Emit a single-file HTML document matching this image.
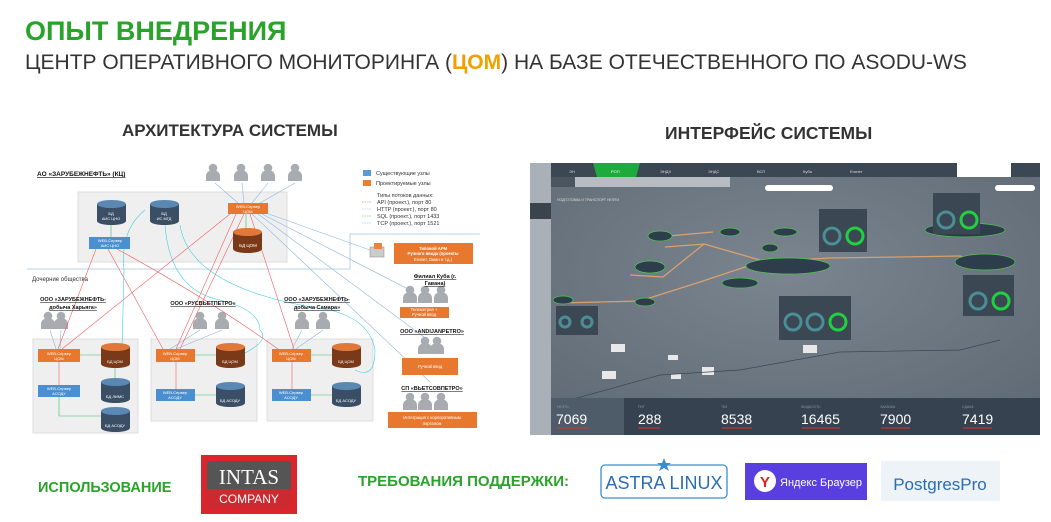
<!DOCTYPE html>
<html><head><meta charset="utf-8"><style>
html,body{margin:0;padding:0;background:#fff;}
body{width:1051px;height:522px;position:relative;overflow:hidden;font-family:"Liberation Sans","Noto Sans CJK SC",sans-serif;}
.a{position:absolute;white-space:nowrap;}
</style></head><body>
<div class="a" style="left:25px;top:16px;font-size:27px;font-weight:bold;color:#2aa32a;">ОПЫТ ВНЕДРЕНИЯ</div>
<div class="a" style="left:25px;top:51px;font-size:21px;color:#333;">ЦЕНТР ОПЕРАТИВНОГО МОНИТОРИНГА (<b style="color:#f0a000">ЦОМ</b>) НА БАЗЕ ОТЕЧЕСТВЕННОГО ПО ASODU-WS</div>
<div class="a" style="left:122px;top:121px;font-size:17px;font-weight:bold;color:#333;">АРХИТЕКТУРА СИСТЕМЫ</div>
<div class="a" style="left:665px;top:123px;font-size:17.5px;font-weight:bold;color:#333;">ИНТЕРФЕЙС СИСТЕМЫ</div>

<svg class="a" style="left:0;top:0" width="1051" height="522" font-family="Liberation Sans, sans-serif">
<defs>
<g id="u"><circle cx="0" cy="-5" r="4.3" fill="#a8acb0"/><path d="M-7,8 v-5 a7,6 0 0 1 14,0 v5 z" fill="#a8acb0"/></g>
<g id="cb"><path d="M0,4 v17 a14.5,4 0 0 0 29,0 v-17" fill="#3a4f66"/><ellipse cx="14.5" cy="4" rx="14.5" ry="4" fill="#5b87b3"/></g>
<g id="co"><path d="M0,4 v17 a14.5,4 0 0 0 29,0 v-17" fill="#7a3a1a"/><ellipse cx="14.5" cy="4" rx="14.5" ry="4" fill="#e0783a"/></g>
<radialGradient id="mg" cx="0.5" cy="0.4" r="0.7"><stop offset="0" stop-color="#7a858f"/><stop offset="1" stop-color="#5f6a74"/></radialGradient>
</defs>
<!-- left diagram -->
<text x="37" y="176" font-size="6.5" font-weight="bold" text-decoration="underline" fill="#111">АО «ЗАРУБЕЖНЕФТЬ» (КЦ)</text>
<rect x="78" y="192" width="209" height="70" fill="#efefef" stroke="#ddd"/>
<rect x="33" y="339" width="105" height="94" fill="#efefef" stroke="#ddd"/>
<rect x="151" y="339" width="106" height="82" fill="#efefef" stroke="#ddd"/>
<rect x="267" y="339" width="106" height="82" fill="#efefef" stroke="#ddd"/>
<path d="M27,269 H350 V234 H480" fill="none" stroke="#a9c4e0" stroke-width="0.8"/>
<text x="32" y="281" font-size="6" fill="#333">Дочерние общества</text>
<use href="#u" x="213" y="173"/><use href="#u" x="241" y="173"/><use href="#u" x="268" y="173"/><use href="#u" x="295" y="173"/>
<use href="#u" x="48" y="321"/><use href="#u" x="61" y="321"/>
<use href="#u" x="200" y="321"/><use href="#u" x="222" y="321"/>
<use href="#u" x="302" y="321"/><use href="#u" x="323" y="321"/>
<use href="#u" x="410" y="295"/><use href="#u" x="425" y="295"/><use href="#u" x="441" y="295"/>
<use href="#u" x="425" y="346"/><use href="#u" x="437" y="346"/>
<use href="#u" x="410" y="402"/><use href="#u" x="425" y="402"/><use href="#u" x="441" y="402"/>
<g fill="none" stroke-width="0.6">
<g stroke="#8bb7e0"><path d="M215,183 L238,203 M242,183 L244,203 M268,183 L252,203 M295,183 L260,203 M370,250 L266,213 M410,290 L262,214 M428,340 L258,214 M430,382 L252,214 M50,330 L56,349 M61,330 L60,349 M200,330 L170,349 M222,330 L176,349 M302,330 L292,349 M323,330 L296,349"/></g>
<g stroke="#f06060"><path d="M230,214 L62,349 M236,214 L176,349 M244,214 L180,349 M250,214 L294,349 M96,249 L58,349 M108,249 L163,349 M117,249 Q210,300 278,349 M59,362 L59,385 M176,362 L176,389 M292,362 L292,389"/></g>
<g stroke="#40d0e0"><path d="M145,210 Q120,230 124,270 L122,350 L114,355 M165,225 Q170,290 220,300 Q260,310 260,330 Q270,340 245,353 M180,225 Q190,290 330,310 Q370,320 375,350 Q375,380 355,370"/></g>
<g stroke="#30c060"><path d="M246,214 V228 M111,225 V237 M80,355 H101 M195,355 H216 M311,355 H332 M195,395 H216 M311,395 H332 M59,397 V416 H101 M115,367 V378"/></g>
</g>
<use href="#co" x="233" y="228"/><text x="248" y="247" font-size="4.5" fill="#fff" text-anchor="middle">БД ЦОМ</text>
<use href="#cb" x="97" y="200"/><text x="111" y="215" font-size="4" fill="#fff" text-anchor="middle">БД</text><text x="111" y="220" font-size="4" fill="#fff" text-anchor="middle">АИС ЦНО</text>
<use href="#cb" x="150" y="200"/><text x="164" y="215" font-size="4" fill="#fff" text-anchor="middle">БД</text><text x="164" y="220" font-size="4" fill="#fff" text-anchor="middle">ИС МГД</text>
<rect x="228" y="203" width="40" height="11" fill="#e8782e"/><text x="248" y="208" font-size="4" fill="#fff" text-anchor="middle">WEB-Сервер</text><text x="248" y="213" font-size="4" fill="#fff" text-anchor="middle">ЦОМ</text>
<rect x="89" y="237" width="41" height="12" fill="#4a8fd0"/><text x="110" y="242" font-size="4" fill="#fff" text-anchor="middle">WEB-Сервер</text><text x="110" y="247" font-size="4" fill="#fff" text-anchor="middle">АИС ЦНО</text>
<g font-size="4" fill="#fff" text-anchor="middle">
<rect x="38" y="349" width="42" height="13" fill="#e8782e"/><text x="59" y="355">WEB-Сервер</text><text x="59" y="360">ЦОМ</text>
<rect x="156" y="349" width="39" height="13" fill="#e8782e"/><text x="175" y="355">WEB-Сервер</text><text x="175" y="360">ЦОМ</text>
<rect x="272" y="349" width="39" height="13" fill="#e8782e"/><text x="291" y="355">WEB-Сервер</text><text x="291" y="360">ЦОМ</text>
<rect x="38" y="385" width="42" height="12" fill="#4a8fd0"/><text x="59" y="390">WEB-Сервер</text><text x="59" y="395">АСОДУ</text>
<rect x="156" y="389" width="39" height="12" fill="#4a8fd0"/><text x="175" y="394">WEB-Сервер</text><text x="175" y="399">АСОДУ</text>
<rect x="272" y="389" width="39" height="12" fill="#4a8fd0"/><text x="291" y="394">WEB-Сервер</text><text x="291" y="399">АСОДУ</text>
</g>
<use href="#co" x="101" y="343"/><use href="#co" x="216" y="343"/><use href="#co" x="332" y="343"/>
<use href="#cb" x="101" y="378"/><use href="#cb" x="101" y="407"/><use href="#cb" x="216" y="382"/><use href="#cb" x="332" y="382"/>
<g font-size="4" fill="#fff" text-anchor="middle"><text x="115" y="363">БД ЦОМ</text><text x="230" y="363">БД ЦОМ</text><text x="346" y="363">БД ЦОМ</text><text x="115" y="398">БД ЛИМС</text><text x="115" y="427">БД АСОДУ</text><text x="230" y="402">БД АСОДУ</text><text x="346" y="402">БД АСОДУ</text></g>
<g font-size="5.5" font-weight="bold" text-decoration="underline" fill="#111" text-anchor="middle">
<text x="73" y="301">ООО «ЗАРУБЕЖНЕФТЬ-</text><text x="73" y="309">добыча Харьяга»</text>
<text x="203" y="305">ООО «РУСВЬЕТПЕТРО»</text>
<text x="317" y="301">ООО «ЗАРУБЕЖНЕФТЬ-</text><text x="317" y="309">добыча Самара»</text>
<text x="435" y="278">Филиал Куба (г.</text><text x="435" y="285">Гавана)</text>
<text x="432" y="333">ООО «ANDIJANPETRO»</text>
<text x="432" y="390">СП «ВЬЕТСОВПЕТРО»</text>
</g>
<rect x="363" y="170" width="8" height="6" fill="#5b9bd5"/><rect x="363" y="180" width="8" height="6" fill="#ed7d31"/>
<g font-size="5.5" fill="#333"><text x="376" y="175">Существующие узлы</text><text x="376" y="185">Проектируемые узлы</text><text x="377" y="197">Типы потоков данных:</text><text x="377" y="204">API (проект.), порт 80</text><text x="377" y="211">HTTP (проект.), порт 80</text><text x="377" y="218">SQL (проект.), порт 1433</text><text x="377" y="225">TCP (проект.), порт 1521</text></g>
<g stroke-width="0.6" stroke-dasharray="1.5,1"><line x1="362" y1="202" x2="372" y2="202" stroke="#f06060"/><line x1="362" y1="209" x2="372" y2="209" stroke="#8bb7e0"/><line x1="362" y1="216" x2="372" y2="216" stroke="#30c060"/><line x1="362" y1="223" x2="372" y2="223" stroke="#40d0e0"/></g>
<rect x="370" y="247" width="14" height="10" fill="#ccc" stroke="#888" stroke-width="0.5"/><rect x="374" y="243" width="8" height="6" fill="#f08040"/>
<g font-size="4.2" fill="#fff" text-anchor="middle">
<rect x="394" y="243" width="79" height="21" fill="#e8782e"/><text x="433" y="250" font-weight="bold">Типовой АРМ</text><text x="433" y="255" font-weight="bold">Ручного ввода (проекты</text><text x="433" y="261">Египет, Оман и т.д.)</text>
<rect x="400" y="307" width="49" height="11" fill="#e8782e"/><text x="424" y="311">Телеметрия +</text><text x="424" y="316">Ручной ввод</text>
<rect x="402" y="358" width="56" height="17" fill="#e8782e"/><text x="430" y="368">Ручной ввод</text>
<rect x="388" y="412" width="89" height="16" fill="#e8782e"/><text x="432" y="419">Интеграция с корпоративным</text><text x="432" y="425">порталом</text>
</g>

<!-- right screenshot -->
<rect x="530" y="163" width="510" height="272" fill="url(#mg)"/>
<rect x="530" y="163" width="510" height="14" fill="#3b4753"/>
<path d="M593,163 H640 L636,177 H597 Z" fill="#1faa3c"/>
<rect x="957" y="163" width="54" height="14" fill="#fff"/>
<rect x="551" y="177" width="179" height="10" fill="#b6bcc2"/><rect x="551" y="177" width="24" height="10" fill="#4a5560"/>
<rect x="530" y="163" width="21" height="272" fill="#a9b0b7"/><rect x="530" y="203" width="21" height="16" fill="#39444f"/>
<rect x="765" y="185" width="68" height="6" rx="3" fill="#fff"/><rect x="995" y="185" width="40" height="6" rx="3" fill="#fff"/>
<g font-size="4" fill="#ddd"><text x="569" y="173">ЭН</text><text x="611" y="173" fill="#fff">РОП</text><text x="660" y="173">ЭНДХ</text><text x="708" y="173">ЭНДС</text><text x="757" y="173">ВСП</text><text x="803" y="173">Куба</text><text x="850" y="173">Египет</text><text x="557" y="201" font-size="3.5">ПОДГОТОВКА И ТРАНСПОРТ НЕФТИ</text></g>
<g fill="none" stroke="#d9a070" stroke-width="1.3"><path d="M560,303 L640,301 L700,282 L760,262 L830,258 L900,257 L960,256 L990,265 M630,275 L663,277 L704,244 L760,260 M665,247 L705,244 M668,236 L713,232"/></g>
<g fill="#2e3d4c" stroke="#4cc84c" stroke-width="0.7"><ellipse cx="788" cy="266" rx="42" ry="8"/><ellipse cx="965" cy="230" rx="40" ry="7"/><ellipse cx="985" cy="262" rx="30" ry="8"/><ellipse cx="660" cy="236" rx="12" ry="5"/><ellipse cx="730" cy="232" rx="10" ry="4"/><ellipse cx="785" cy="232" rx="12" ry="4"/><ellipse cx="770" cy="248" rx="8" ry="4"/><ellipse cx="650" cy="267" rx="15" ry="6"/><ellipse cx="740" cy="283" rx="18" ry="5"/><ellipse cx="645" cy="302" rx="10" ry="4"/><ellipse cx="563" cy="300" rx="10" ry="4"/></g>
<g fill="#3b4753"><rect x="819" y="209" width="48" height="43"/><rect x="933" y="193" width="47" height="41"/><rect x="779" y="296" width="72" height="44"/><rect x="963" y="275" width="51" height="41"/><rect x="556" y="306" width="42" height="29"/></g>
<g fill="none" stroke-width="3"><circle cx="832" cy="236" r="8" stroke="#4a8e96"/><circle cx="855" cy="236" r="8" stroke="#20d040"/><circle cx="946" cy="220" r="8" stroke="#4a8e96"/><circle cx="969" cy="220" r="8" stroke="#20d040"/><circle cx="978" cy="301" r="8" stroke="#4a8e96"/><circle cx="1001" cy="301" r="8" stroke="#20d040"/><circle cx="793" cy="322" r="8" stroke="#4a8e96"/><circle cx="815" cy="322" r="8" stroke="#4a8e96"/><circle cx="838" cy="322" r="8" stroke="#20d040"/><circle cx="565" cy="322" r="5" stroke="#4a8e96"/><circle cx="587" cy="322" r="5" stroke="#4a8e96"/></g>
<g fill="#e8e8e8"><rect x="611" y="344" width="14" height="8"/><rect x="803" y="345" width="14" height="8"/><rect x="602" y="371" width="14" height="8"/><rect x="702" y="367" width="12" height="8"/><rect x="668" y="355" width="10" height="5"/><rect x="671" y="374" width="10" height="5"/></g>
<path d="M570,400 L660,375 L740,370 L840,352 L960,350 L1000,340" fill="none" stroke="#3b4753" stroke-width="0.7"/>
<rect x="551" y="398" width="489" height="37" fill="#36424f"/><rect x="551" y="398" width="73" height="37" fill="#4e5b69"/>
<g fill="#fff" font-size="14"><text x="556" y="424">7069</text><text x="638" y="424">288</text><text x="721" y="424">8538</text><text x="801" y="424">16465</text><text x="880" y="424">7900</text><text x="962" y="424">7419</text></g>
<g stroke="#e03030" stroke-width="1"><line x1="557" y1="428" x2="588" y2="428"/><line x1="638" y1="428" x2="660" y2="428"/><line x1="722" y1="428" x2="752" y2="428"/><line x1="802" y1="428" x2="840" y2="428"/><line x1="881" y1="428" x2="910" y2="428"/><line x1="963" y1="428" x2="992" y2="428"/></g>
<g fill="#8a96a2" font-size="3.5"><text x="557" y="408">НЕФТЬ</text><text x="638" y="408">ПНГ</text><text x="721" y="408">ТКЗ</text><text x="801" y="408">ЖИДКОСТЬ</text><text x="880" y="408">ЗАКАЧКА</text><text x="962" y="408">СДАЧА</text></g>

<text x="38" y="492" font-size="14.5" font-weight="bold" fill="#2aa32a">ИСПОЛЬЗОВАНИЕ</text>
<rect x="201" y="455" width="96" height="59" fill="#d9262c"/><rect x="207" y="461" width="84" height="47" rx="3" fill="#555"/><rect x="207" y="489" width="84" height="19" fill="#cc2a30" rx="2"/>
<text x="249" y="484" font-size="21" font-family="Liberation Serif, serif" fill="#fff" text-anchor="middle">INTAS</text>
<text x="249" y="503" font-size="12" fill="#fff" text-anchor="middle">COMPANY</text>
<text x="358" y="486" font-size="15" font-weight="bold" fill="#2aa32a">ТРЕБОВАНИЯ ПОДДЕРЖКИ:</text>
<rect x="601" y="465" width="126" height="33" rx="4" fill="#fff" stroke="#3a8cd0" stroke-width="1.3"/>
<polygon points="664,458 666,463 671,463 667,466 669,471 664,468 659,471 661,466 657,463 662,463" fill="#3a8cd0"/>
<text x="664" y="489" font-size="18" fill="#2a6cb5" text-anchor="middle">ASTRA LINUX</text>
<rect x="745" y="463" width="122" height="37" fill="#5a3fe0"/>
<circle cx="765" cy="481" r="11" fill="#fff"/><text x="765" y="487" font-size="15" fill="#e02020" text-anchor="middle" font-weight="bold">Y</text>
<text x="780" y="486" font-size="11" fill="#fff">Яндекс Браузер</text>
<rect x="881" y="461" width="119" height="40" fill="#eef3f8"/>
<text x="940" y="490" font-size="17" fill="#2a6cb5" text-anchor="middle">PostgresPro</text>
</svg>
</body></html>
